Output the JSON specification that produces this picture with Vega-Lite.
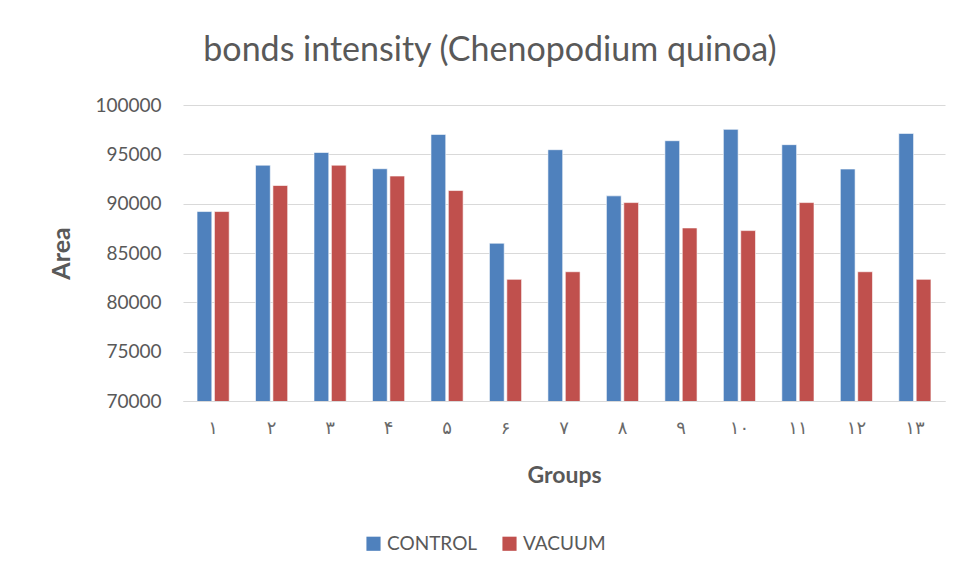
{
  "$schema": "https://vega.github.io/schema/vega-lite/v6.json",
  "width": 762,
  "height": 296,
  "autosize": {"type": "none"},
  "padding": {"left": 183, "top": 105, "right": 13, "bottom": 179},
  "background": "#ffffff",
  "title": {
    "text": "bonds intensity (Chenopodium quinoa)",
    "anchor": "middle",
    "frame": "group",
    "dx": -74,
    "offset": 28,
    "fontSize": 34,
    "fontWeight": "normal",
    "font": "Lato",
    "color": "#595959"
  },
  "data": {
    "values": [
      {"group": "۱", "series": "CONTROL", "area": 89200},
      {"group": "۱", "series": "VACUUM", "area": 89200},
      {"group": "۲", "series": "CONTROL", "area": 93900},
      {"group": "۲", "series": "VACUUM", "area": 91840},
      {"group": "۳", "series": "CONTROL", "area": 95190},
      {"group": "۳", "series": "VACUUM", "area": 93900},
      {"group": "۴", "series": "CONTROL", "area": 93540},
      {"group": "۴", "series": "VACUUM", "area": 92800},
      {"group": "۵", "series": "CONTROL", "area": 97020},
      {"group": "۵", "series": "VACUUM", "area": 91330},
      {"group": "۶", "series": "CONTROL", "area": 85990},
      {"group": "۶", "series": "VACUUM", "area": 82330},
      {"group": "۷", "series": "CONTROL", "area": 95470},
      {"group": "۷", "series": "VACUUM", "area": 83100},
      {"group": "۸", "series": "CONTROL", "area": 90790},
      {"group": "۸", "series": "VACUUM", "area": 90110},
      {"group": "۹", "series": "CONTROL", "area": 96380},
      {"group": "۹", "series": "VACUUM", "area": 87540},
      {"group": "۱۰", "series": "CONTROL", "area": 97530},
      {"group": "۱۰", "series": "VACUUM", "area": 87270},
      {"group": "۱۱", "series": "CONTROL", "area": 95980},
      {"group": "۱۱", "series": "VACUUM", "area": 90110},
      {"group": "۱۲", "series": "CONTROL", "area": 93510},
      {"group": "۱۲", "series": "VACUUM", "area": 83100},
      {"group": "۱۳", "series": "CONTROL", "area": 97120},
      {"group": "۱۳", "series": "VACUUM", "area": 82330}
    ]
  },
  "mark": {"type": "bar", "clip": true, "stroke": "#ffffff", "strokeWidth": 1, "strokeOpacity": 0.6},
  "encoding": {
    "x": {
      "field": "group",
      "type": "nominal",
      "sort": ["۱", "۲", "۳", "۴", "۵", "۶", "۷", "۸", "۹", "۱۰", "۱۱", "۱۲", "۱۳"],
      "scale": {"paddingInner": 0.45, "paddingOuter": 0.24},
      "axis": {
        "title": "Groups",
        "titleFont": "Lato",
        "titleFontSize": 23,
        "titleFontWeight": "bold",
        "titleColor": "#595959",
        "titlePadding": 27,
        "labelAngle": 0,
        "labelFont": "DejaVu Sans",
        "labelFontSize": 18,
        "labelColor": "#6a6a6a",
        "labelPadding": 18,
        "ticks": false,
        "domainColor": "#d9d9d9",
        "domainWidth": 1
      }
    },
    "xOffset": {
      "field": "series",
      "type": "nominal",
      "sort": ["CONTROL", "VACUUM"],
      "scale": {"paddingInner": 0.15}
    },
    "y": {
      "field": "area",
      "type": "quantitative",
      "scale": {"domain": [70000, 100000], "zero": false, "nice": false},
      "axis": {
        "title": "Area",
        "titleFont": "Lato",
        "titleFontSize": 25,
        "titleFontWeight": "bold",
        "titleColor": "#595959",
        "titlePadding": 20,
        "values": [70000, 75000, 80000, 85000, 90000, 95000, 100000],
        "format": "d",
        "labelFont": "Lato",
        "labelFontSize": 19,
        "labelColor": "#595959",
        "labelPadding": 22,
        "ticks": false,
        "domain": false,
        "gridColor": "#d9d9d9",
        "gridWidth": 1
      }
    },
    "color": {
      "field": "series",
      "type": "nominal",
      "sort": ["CONTROL", "VACUUM"],
      "scale": {"domain": ["CONTROL", "VACUUM"], "range": ["#4f81bd", "#c0504d"]},
      "legend": {
        "title": null,
        "orient": "none",
        "direction": "horizontal",
        "legendX": 181,
        "legendY": 429,
        "symbolType": "square",
        "symbolSize": 200,
        "symbolStrokeWidth": 0,
        "labelFont": "Lato",
        "labelFontSize": 19,
        "labelColor": "#595959",
        "labelOffset": 4,
        "columnPadding": 22
      }
    }
  },
  "config": {
    "view": {"stroke": null}
  }
}
